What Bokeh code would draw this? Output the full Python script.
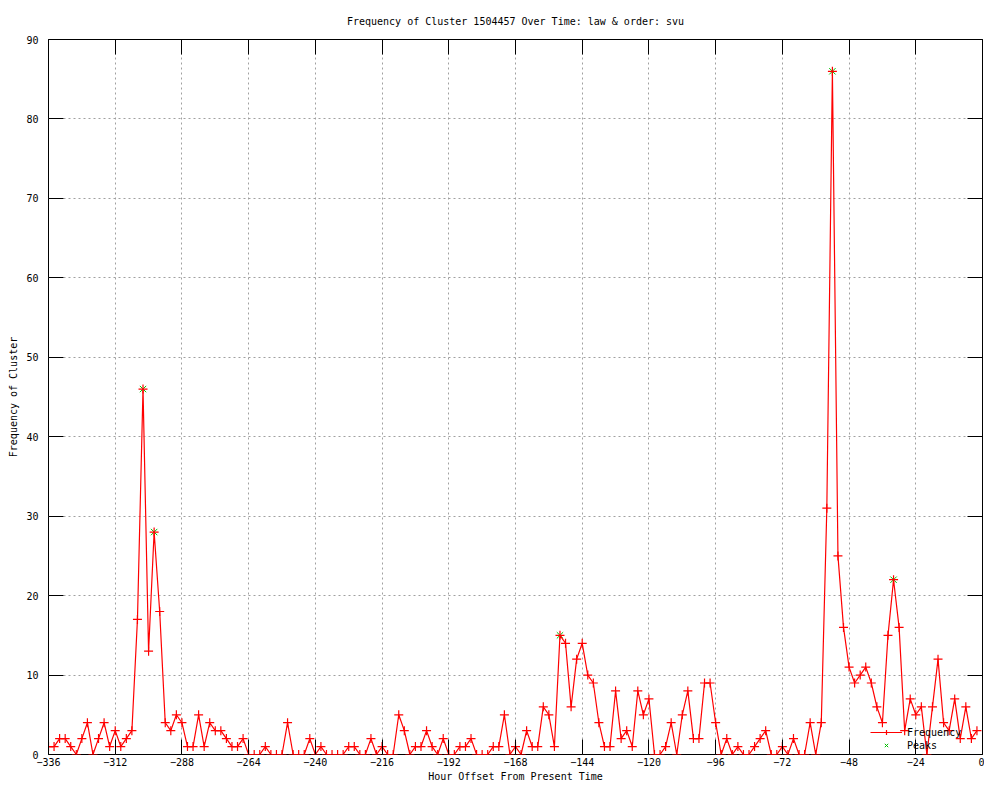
from bokeh.plotting import figure
from bokeh.models import Range1d, FixedTicker, LinearAxis, Legend, LegendItem
from bokeh.embed import file_html
from bokeh.resources import INLINE

# ---- data ----
hours = list(range(-336, 0, 2))
frequency = [
    1, 1, 2, 2, 1, 0, 2, 4, 0, 2, 4, 1, 3, 1, 2, 3,          # -336 .. -306
    17, 46, 13, 28, 18, 4, 3, 5, 4, 1, 1, 5, 1, 4, 3, 3,     # -304 .. -274
    2, 1, 1, 2, 0, 0, 0, 1, 0, 0, 0, 4, 0, 0, 0, 2,          # -272 .. -242
    0, 1, 0, 0, 0, 0, 1, 1, 0, 0, 2, 0, 1, 0, 0, 5,          # -240 .. -210
    3, 0, 1, 1, 3, 1, 0, 2, 0, 0, 1, 1, 2, 0, 0, 0,          # -208 .. -178
    1, 1, 5, 0, 1, 0, 3, 1, 1, 6, 5, 1, 15, 14, 6, 12,       # -176 .. -146
    14, 10, 9, 4, 1, 1, 8, 2, 3, 1, 8, 5, 7, 0, 0, 1,        # -144 .. -114
    4, 0, 5, 8, 2, 2, 9, 9, 4, 0, 2, 0, 1, 0, 0, 1,          # -112 .. -82
    2, 3, 0, 0, 1, 0, 2, 0, 0, 4, 0, 4, 31, 86, 25, 16,      # -80 .. -50
    11, 9, 10, 11, 9, 6, 4, 15, 22, 16, 3, 7, 5, 6, 0, 6,    # -48 .. -18
    12, 4, 3, 7, 2, 6, 2, 3,                                 # -16 .. -2
]
peak_hours = [-302, -298, -152, -54, -32]
peak_values = [46, 28, 15, 86, 22]

x_ticks = list(range(-336, 1, 24))
y_ticks = list(range(0, 91, 10))

FONT = "DejaVu Sans Mono"
FS = "10px"

p = figure(
    width=984, height=784,
    x_range=Range1d(-336, 0), y_range=Range1d(0, 90),
    output_backend="svg", toolbar_location=None,
    title="Frequency of Cluster 1504457 Over Time: law & order: svu",
    min_border_left=48, min_border_right=2, min_border_top=39, min_border_bottom=28,
)
p.background_fill_color = "white"
p.border_fill_color = "white"
p.outline_line_color = "black"
p.outline_line_width = 1

p.title.text_font = FONT
p.title.text_font_size = FS
p.title.text_font_style = "normal"
p.title.align = "center"
p.title.text_color = "black"
p.title.standoff = 25

def style_axis(ax, show_labels=True):
    ax.major_tick_in = 15
    ax.major_tick_out = 0
    ax.minor_tick_in = 0
    ax.minor_tick_out = 0
    ax.major_tick_line_color = "black"
    ax.axis_line_color = None
    ax.major_label_text_font = FONT
    ax.major_label_text_font_size = FS if show_labels else "1px"
    ax.major_label_text_color = "black" if show_labels else None
    ax.axis_label_text_font = FONT
    ax.axis_label_text_font_size = FS
    ax.axis_label_text_font_style = "normal"
    ax.axis_label_text_color = "black"

p.xaxis.ticker = FixedTicker(ticks=x_ticks)
p.yaxis.ticker = FixedTicker(ticks=y_ticks)
style_axis(p.xaxis[0])
style_axis(p.yaxis[0])
p.xaxis.axis_label = "Hour Offset From Present Time"
p.yaxis.axis_label = "Frequency of Cluster"
p.xaxis.major_label_standoff = 3
p.xaxis.axis_label_standoff = 2
p.yaxis.major_label_standoff = 10
p.yaxis.axis_label_standoff = 4

top_ax = LinearAxis(ticker=FixedTicker(ticks=x_ticks))
style_axis(top_ax, show_labels=False)
top_ax.major_label_standoff = 0
p.add_layout(top_ax, "above")
right_ax = LinearAxis(ticker=FixedTicker(ticks=y_ticks))
style_axis(right_ax, show_labels=False)
right_ax.major_label_standoff = 0
p.add_layout(right_ax, "right")

p.xgrid.ticker = FixedTicker(ticks=x_ticks[1:-1])
p.ygrid.ticker = FixedTicker(ticks=y_ticks[1:-1])
for g in (p.xgrid[0], p.ygrid[0]):
    g.grid_line_color = "#a0a0a0"
    g.grid_line_dash = "2 3"
    g.grid_line_width = 1

pk = p.scatter(peak_hours, peak_values, marker="x", size=9, line_color="#00c000", line_width=1)
ln = p.line(hours, frequency, line_color="#ff0000", line_width=1.2)
pts = p.scatter(hours, frequency, marker="cross", size=9, line_color="#ff0000", line_width=1.2)

legend = Legend(
    items=[LegendItem(label="Frequency", renderers=[ln, pts]),
           LegendItem(label="Peaks", renderers=[pk])],
    location=(822, 3),
    background_fill_alpha=0, border_line_alpha=0,
    label_text_font=FONT, label_text_font_size=FS, label_text_color="black",
    glyph_width=32, glyph_height=12, label_height=12, label_standoff=5,
    spacing=1, padding=0, margin=0,
)
p.add_layout(legend, "center")

open("out.html", "w").write(file_html(p, INLINE))
